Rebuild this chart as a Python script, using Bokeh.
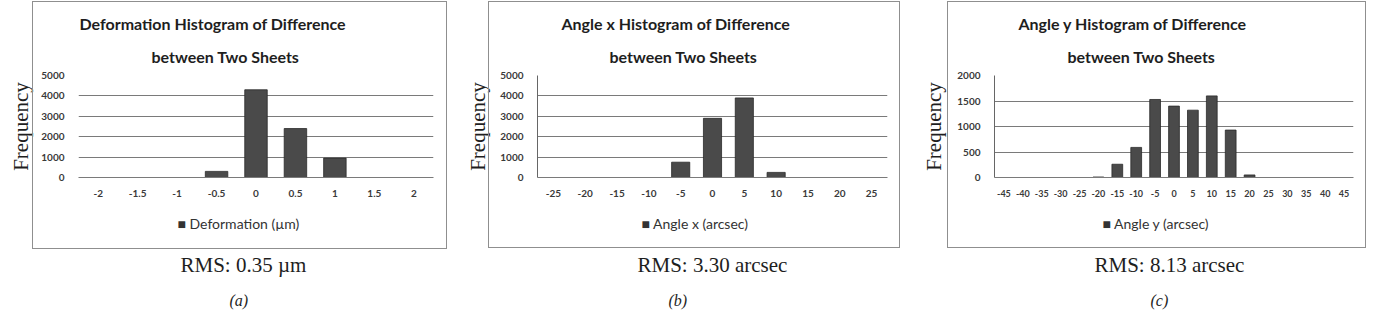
from bokeh.plotting import figure
from bokeh.models import (Range1d, FactorRange, Title, SingleIntervalTicker, InlineStyleSheet)
from bokeh.layouts import row
from bokeh.embed import file_html
from bokeh.resources import INLINE

# ---------------- data ----------------
def_labels = ["-2", "-1.5", "-1", "-0.5", "0", "0.5", "1", "1.5", "2"]
def_counts = [0, 0, 0, 300, 4300, 2400, 950, 0, 0]

ax_labels = ["-25", "-20", "-15", "-10", "-5", "0", "5", "10", "15", "20", "25"]
ax_counts = [0, 0, 0, 0, 750, 2900, 3900, 250, 0, 0, 0]

ay_labels = ["-45", "-40", "-35", "-30", "-25", "-20", "-15", "-10", "-5", "0",
             "5", "10", "15", "20", "25", "30", "35", "40", "45"]
ay_counts = [0, 0, 0, 0, 0, 10, 260, 590, 1530, 1400, 1320, 1600, 930, 50, 0, 0, 0, 0, 0]

titles = [["Deformation Histogram of Difference", "between Two Sheets"],
          ["Angle x Histogram of Difference", "between Two Sheets"],
          ["Angle y Histogram of Difference", "between Two Sheets"]]
legend_labels = ["Deformation (\u00b5m)", "Angle x (arcsec)", "Angle y (arcsec)"]
rms_texts = ["RMS: 0.35 \u00b5m", "RMS: 3.30 arcsec", "RMS: 8.13 arcsec"]
sub_labels = ["(a)", "(b)", "(c)"]
y_label = "Frequency"
y_max = [5000, 5000, 2000]
y_step = [1000, 1000, 500]

# ---------------- style / layout ----------------
SANS = "Lato"
SERIF = "Liberation Serif"
BAR = "#4a4a4a"
GRID = "#7a7a7a"
INK = "#1e1e1e"

cfg = [
    dict(w=455, fl=78, fr=22, ft=75, fb=136, box=(32, 1, 415, 248),
         t1=1, t2=73, fsd=12, lx=99, rx=102, sx=151, xfs="10px", yline=False),
    dict(w=455, fl=82, fr=23, ft=73, fb=138, box=(33, 1, 412, 247),
         t1=24, t2=72, fsd=16, lx=104, rx=100, sx=131, xfs="10px", yline=True),
    dict(w=464, fl=84, fr=21, ft=75, fb=137, box=(37, 1, 419, 247),
         t1=24, t2=73, fsd=18, lx=108, rx=100, sx=156, xfs="9px", yline=True),
]

datasets = [(def_labels, def_counts), (ax_labels, ax_counts), (ay_labels, ay_counts)]

figs = []
for i, ((labels, counts), c) in enumerate(zip(datasets, cfg)):
    bx, by, bw, bh = c["box"]
    css = (":host::after { content: ''; position: absolute; left: %dpx; top: %dpx; "
           "width: %dpx; height: %dpx; border: 1px solid #8f8f8f; box-sizing: border-box; "
           "pointer-events: none; }" % (bx, by, bw, bh))
    p = figure(width=c["w"], height=315, x_range=FactorRange(factors=labels),
               y_range=Range1d(0, y_max[i]), output_backend="svg", toolbar_location=None,
               min_border_left=c["fl"], min_border_right=c["fr"],
               min_border_top=c["ft"], min_border_bottom=c["fb"],
               stylesheets=[InlineStyleSheet(css=css)])
    p.outline_line_color = None
    p.background_fill_color = "white"
    p.border_fill_color = "white"

    p.vbar(x=labels, top=counts, width=0.57, fill_color=BAR, line_color="#2a2a2a",
           line_width=0.8)

    p.xgrid.grid_line_color = None
    p.ygrid.grid_line_color = GRID
    p.yaxis.ticker = SingleIntervalTicker(interval=y_step[i])
    for ax in (p.xaxis, p.yaxis):
        ax.major_tick_line_color = None
        ax.minor_tick_line_color = None
        ax.major_tick_out = 0
        ax.major_tick_in = 0
        ax.major_label_text_font = SANS
        ax.major_label_text_font_style = "bold"
        ax.major_label_text_color = "#3a3a3a"
    p.xaxis.axis_line_color = GRID
    p.xaxis.major_label_text_font_size = c["xfs"]
    p.xaxis.major_label_standoff = 12
    p.yaxis.major_label_text_font_size = "10px"
    p.yaxis.major_label_standoff = 10
    p.yaxis.axis_line_color = "#666666" if c["yline"] else None

    # two-line title above the plot
    p.add_layout(Title(text=titles[i][1], align="left", offset=c["t2"], standoff=20,
                       text_font=SANS, text_font_size="16px", text_font_style="bold",
                       text_color=INK), "above")
    p.add_layout(Title(text=titles[i][0], align="left", offset=c["t1"], standoff=4,
                       text_font=SANS, text_font_size="16px", text_font_style="bold",
                       text_color=INK), "above")

    # y label
    p.add_layout(Title(text=y_label, align="center", standoff=c["fsd"], text_font=SERIF,
                       text_font_size="21px", text_font_style="normal", text_color=INK), "left")

    # legend entry (swatch + series name) under the axis
    p.add_layout(Title(text="\u25a0 " + legend_labels[i], align="left", offset=c["lx"],
                       standoff=26, text_font=SANS, text_font_size="14px",
                       text_font_style="normal", text_color="#333333"), "below")

    # RMS and caption
    p.add_layout(Title(text=rms_texts[i], align="left", offset=c["rx"], standoff=12,
                       text_font=SERIF, text_font_size="21px", text_font_style="normal",
                       text_color=INK), "below")
    p.add_layout(Title(text=sub_labels[i], align="left", offset=c["sx"], standoff=14,
                       text_font=SERIF, text_font_size="16px", text_font_style="italic",
                       text_color=INK), "below")
    figs.append(p)

layout = row(*figs, spacing=0)
open("out.html", "w").write(file_html(layout, INLINE))
